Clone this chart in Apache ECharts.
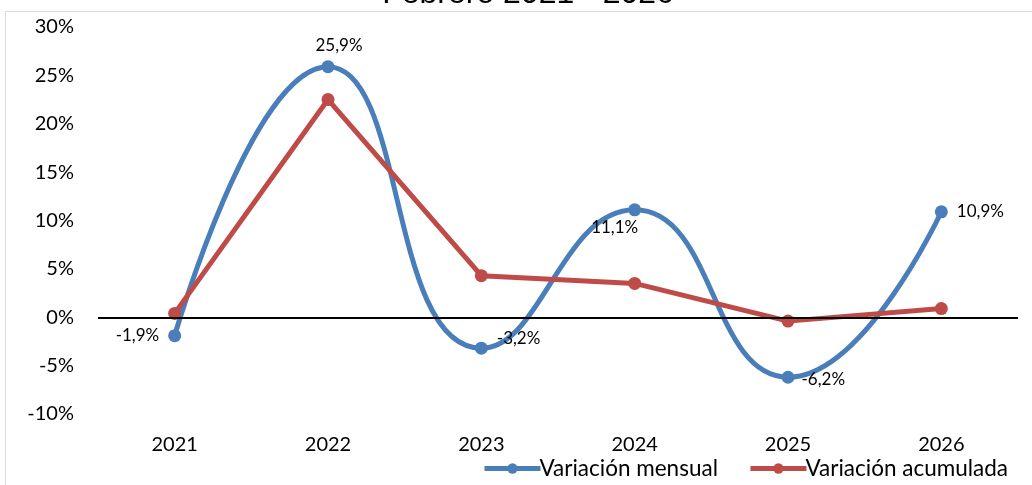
<!DOCTYPE html>
<html><head><meta charset="utf-8">
<script src="https://cdn.jsdelivr.net/npm/echarts@6/dist/echarts.min.js"></script>
<style>html,body{margin:0;padding:0;background:#fff}#c{width:1032px;height:485px}</style>
</head><body><div id="c"></div>
<script>
const titleText = 'Febrero 2021 - 2026';
const categories = ['2021','2022','2023','2024','2025','2026'];
const mensual = [-1.9, 25.9, -3.2, 11.1, -6.2, 10.9];
const acumulada = [0.4, 22.5, 4.3, 3.5, -0.4, 0.9];
const seriesNames = ['Variación mensual', 'Variación acumulada'];
const yTicks = {min: -10, max: 30, interval: 5};

const fmt = v => (v.toFixed(1).replace('.', ',')) + '%';
const FONT = 'Lato';
const mensualLabelPos = [
  {position: 'left', offset: [-4, 0]},
  {position: 'top', offset: [11, -1]},
  {position: 'right', offset: [4, -10]},
  {position: 'bottom', offset: [-20, -2]},
  {position: 'right', offset: [2, 2]},
  {position: 'right', offset: [4, 0]}
];

const chart = echarts.init(document.getElementById('c'), null, {renderer: 'canvas'});
chart.setOption({
  animation: false,
  graphic: [
    {type: 'rect', shape: {x: 5.5, y: 11.5, width: 1100, height: 600}, style: {fill: 'none', stroke: '#d9d9d9', lineWidth: 1}, z: -10},
    {type: 'text', x: 528, y: 10, style: {text: titleText, font: '32px "Liberation Sans"', fill: '#000', textAlign: 'center', textVerticalAlign: 'bottom'}}
  ],
  grid: {left: 98, right: 14, top: 27, bottom: 71},
  legend: {
    bottom: 0, right: 19, itemWidth: 56, itemHeight: 13, itemGap: 30,
    lineStyle: {width: 5},
    textStyle: {fontFamily: FONT, fontSize: 22.5, color: '#000', padding: [0, 0, 0, -6]},
    data: seriesNames
  },
  xAxis: {
    type: 'category', data: categories,
    axisLine: {show: false}, axisTick: {show: false},
    axisLabel: {fontFamily: FONT, fontSize: 20, color: '#000', margin: 21}
  },
  yAxis: {
    type: 'value', min: yTicks.min, max: yTicks.max, interval: yTicks.interval,
    axisLine: {show: false}, axisTick: {show: false}, splitLine: {show: false},
    axisLabel: {fontFamily: FONT, fontSize: 20, color: '#000', margin: 24, formatter: v => v + '%'}
  },
  series: [
    {
      name: seriesNames[0], type: 'line', smooth: 0.5, z: 3,
      data: mensual.map((v, i) => ({value: v, label: Object.assign({show: true}, mensualLabelPos[i])})),
      symbol: 'circle', symbolSize: 13,
      lineStyle: {color: '#4a7ebb', width: 5},
      itemStyle: {color: '#4a7ebb'},
      label: {fontFamily: FONT, fontSize: 17, color: '#000', formatter: p => fmt(p.value)}
    },
    {
      name: seriesNames[1], type: 'line', smooth: false, z: 4,
      data: acumulada,
      symbol: 'circle', symbolSize: 13,
      lineStyle: {color: '#be4b48', width: 5},
      itemStyle: {color: '#be4b48'},
      markLine: {silent: true, symbol: 'none', label: {show: false},
        lineStyle: {color: '#000', width: 2, type: 'solid'},
        data: [{yAxis: 0}]}
    }
  ]
});
</script></body></html>
